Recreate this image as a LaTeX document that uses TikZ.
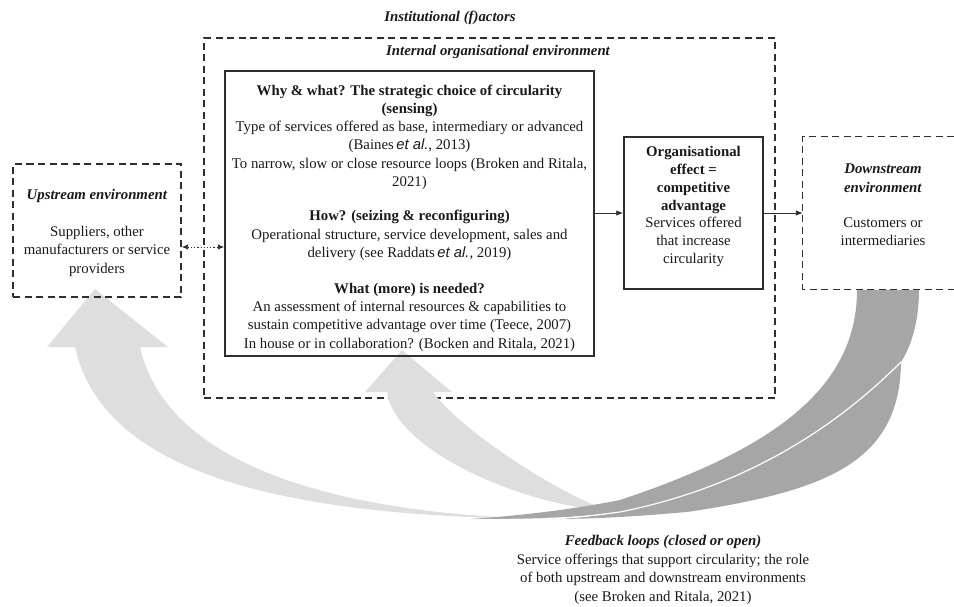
\documentclass[tikz,border=0pt]{standalone}
\usepackage{fontspec}
\setmainfont{Liberation Serif}
\setsansfont{Liberation Sans}
\usetikzlibrary{arrows.meta}
\definecolor{linec}{gray}{0.18}
\definecolor{lightarr}{gray}{0.87}
\definecolor{darkarr}{gray}{0.65}
\tikzset{
 txt/.style={font=\fontsize{14.8}{18.3}\selectfont, align=center, inner sep=0pt, text=black!90},
 bitxt/.style={txt, font=\fontsize{14.8}{18.3}\selectfont\bfseries\itshape},
 solidbox/.style={draw=linec, line width=1.5pt, inner sep=0pt},
 dashbox/.style={draw=linec, line width=1.3pt, dash pattern=on 7pt off 4.5pt},
 arr/.style={draw=linec, line width=0.9pt, -{Latex[length=7pt,width=5.5pt]}},
 dotarr/.style={draw=linec, line width=0.9pt, dash pattern=on 1.2pt off 2pt, {Latex[length=6.5pt,width=5.5pt]}-{Latex[length=6.5pt,width=5.5pt]}},
 whitesep/.style={draw=white, line width=1.2pt},
}
\begin{document}
\begin{tikzpicture}[x=1pt,y=-1pt]
\useasboundingbox (0,0) rectangle (954,606);

% internal organisational environment (outer dashed box)
\node[dashbox, minimum width=571pt, minimum height=360pt, inner sep=0pt] (internal) at (489.5,218) {};

% downstream box (open to the right)
\node[minimum width=151pt, minimum height=152pt, inner sep=0pt] (down) at (878.5,213) {};
\draw[dashbox] (down.north east) -- (down.north west) -- (down.south west) -- (down.south east);

% light feedback arrows
\fill[lightarr] (600,519) .. controls (300,522) and (105,480) .. (75,347) -- (47,347) -- (95,289) -- (168,347) -- (140,347) .. controls (170,480) and (380,522) .. (600,519) -- cycle;
\fill[lightarr] (610,511) .. controls (520,505) and (395,450) .. (387,392) -- (365,392) -- (402,350) -- (452,392) -- (433,392) .. controls (460,430) and (560,495) .. (610,511) -- cycle;

% dark feedback bands
\fill[darkarr] (901,362) .. controls (900,462) and (827,491) .. (687,512) .. controls (640,516) and (600,519) .. (550,519) .. controls (580,518) and (600,515) .. (620,512) .. controls (740,488) and (831,432) .. (901,362) -- cycle;
\fill[darkarr] (857,290) -- (919,290) .. controls (919,320) and (912,345) .. (901,362) .. controls (831,432) and (740,488) .. (620,512) .. controls (580,518) and (520,519) .. (470,519) .. controls (530,515) and (580,508) .. (620,500) .. controls (770,450) and (857,390) .. (857,290) -- cycle;
\draw[whitesep] (901,362) .. controls (831,432) and (740,488) .. (620,512) .. controls (590,516) and (570,518) .. (550,519);

% main box
\node[solidbox, minimum width=369pt, minimum height=285pt] (main) at (409.5,213.5) {};
\node[txt] (maintext) at (409.5,218) {%
\textbf{Why \& what? The strategic choice of circularity}\\
\textbf{(sensing)}\\
Type of services offered as base, intermediary or advanced\\
(Baines{\sffamily\itshape\,et al.}, 2013)\\
To narrow, slow or close resource loops (Broken and Ritala,\\
2021)\\[16pt]
\textbf{How? (seizing \& reconfiguring)}\\
Operational structure, service development, sales and\\
delivery (see Raddats{\sffamily\itshape\,et al.}, 2019)\\[17.5pt]
\textbf{What (more) is needed?}\\
An assessment of internal resources \& capabilities to\\
sustain competitive advantage over time (Teece, 2007)\\
In house or in collaboration? (Bocken and Ritala, 2021)};

% organisational effect box
\node[solidbox, minimum width=139pt, minimum height=152pt] (org) at (693.5,213) {};
\node[txt, font=\fontsize{14.8}{17.9}\selectfont] (orgtext) at (693.5,206.5) {\textbf{Organisational}\\ \textbf{effect =}\\ \textbf{competitive}\\ \textbf{advantage}\\ Services offered\\ that increase\\ circularity};

% upstream box
\node[dashbox, minimum width=168pt, minimum height=133pt, inner sep=0pt] (up) at (97,230.5) {};
\node[txt] (uptext) at (97,233) {\textbf{\textit{Upstream environment}}\\[18.5pt] Suppliers, other\\ manufacturers or service\\ providers};

% downstream text
\node[txt] (downtext) at (883,205) {\textbf{\textit{Downstream}}\\ \textbf{\textit{environment}}\\[16.7pt] Customers or\\ intermediaries};

% headings
\node[bitxt] (inst) at (450,17.5) {Institutional (f)actors};
\node[bitxt] (intl) at (498,51.5) {Internal organisational environment};

% feedback text
\node[txt, font=\fontsize{14.8}{18.8}\selectfont] (fb) at (663,570) {\textbf{\textit{Feedback loops (closed or open)}}\\ Service offerings that support circularity; the role\\ of both upstream and downstream environments\\ (see Broken and Ritala, 2021)};

% connectors
\draw[arr] (org.west -| main.east) -- (org.west);
\draw[arr] (org.east) -- (down.west);
\coordinate (dl) at ([yshift=-16.5pt]up.east);
\draw[dotarr] (dl) -- (dl -| main.west);
\end{tikzpicture}
\end{document}
